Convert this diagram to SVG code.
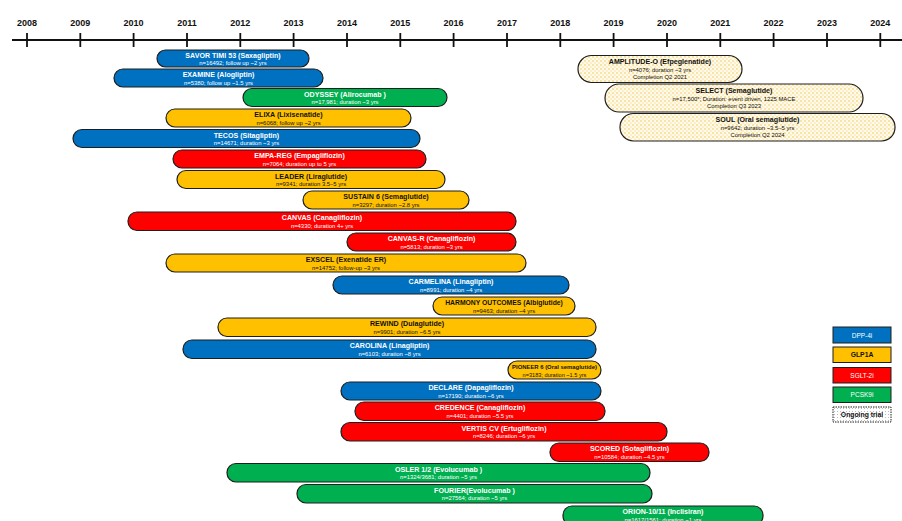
<svg xmlns="http://www.w3.org/2000/svg" width="902" height="521" viewBox="0 0 902 521">
<defs>
<pattern id="dots" width="4" height="4" patternUnits="userSpaceOnUse">
<rect width="4" height="4" fill="#fffaea"/>
<rect x="0" y="0" width="2" height="2" fill="#f8e4a8"/>
<rect x="2" y="2" width="2" height="2" fill="#fbeec8"/>
</pattern>
<pattern id="wdots" width="3" height="3" patternUnits="userSpaceOnUse">
<rect width="3" height="3" fill="#ffffff"/>
<rect x="0" y="0" width="1" height="1" fill="#bbbbbb"/>
</pattern>
<style>
.yr{font-family:"Liberation Sans",Arial,sans-serif;font-size:9px;font-weight:bold;fill:#111;text-anchor:middle}
.bar{stroke:#1e1e1e;stroke-width:1.2}
.b{fill:#0070c0}.y{fill:#ffc000}.r{fill:#ff0000}.g{fill:#00b050}.o{fill:url(#dots)}
.t{font-family:"Liberation Sans",Arial,sans-serif;font-size:7.1px;font-weight:bold;text-anchor:middle}
.s{font-family:"Liberation Sans",Arial,sans-serif;font-size:5.9px;text-anchor:middle}
.w{fill:#ffffff}.k{fill:#111111}
.lg{stroke:#1e1e1e;stroke-width:1}
</style>
</defs>
<rect width="902" height="521" fill="#ffffff"/>
<g id="axis">
<line x1="12" y1="40" x2="902" y2="40" stroke="#111" stroke-width="1.8"/>
<g stroke="#111" stroke-width="1.8">
<line x1="27" y1="33" x2="27" y2="47"/><line x1="80.3" y1="33" x2="80.3" y2="47"/><line x1="133.6" y1="33" x2="133.6" y2="47"/><line x1="187" y1="33" x2="187" y2="47"/><line x1="240.3" y1="33" x2="240.3" y2="47"/><line x1="293.6" y1="33" x2="293.6" y2="47"/><line x1="347" y1="33" x2="347" y2="47"/><line x1="400.3" y1="33" x2="400.3" y2="47"/><line x1="453.6" y1="33" x2="453.6" y2="47"/><line x1="507" y1="33" x2="507" y2="47"/><line x1="560.3" y1="33" x2="560.3" y2="47"/><line x1="613.6" y1="33" x2="613.6" y2="47"/><line x1="667" y1="33" x2="667" y2="47"/><line x1="720.3" y1="33" x2="720.3" y2="47"/><line x1="773.6" y1="33" x2="773.6" y2="47"/><line x1="827" y1="33" x2="827" y2="47"/><line x1="880.3" y1="33" x2="880.3" y2="47"/>
</g>
<text class="yr" x="27" y="26">2008</text><text class="yr" x="80.3" y="26">2009</text><text class="yr" x="133.6" y="26">2010</text><text class="yr" x="187" y="26">2011</text><text class="yr" x="240.3" y="26">2012</text><text class="yr" x="293.6" y="26">2013</text><text class="yr" x="347" y="26">2014</text><text class="yr" x="400.3" y="26">2015</text><text class="yr" x="453.6" y="26">2016</text><text class="yr" x="507" y="26">2017</text><text class="yr" x="560.3" y="26">2018</text><text class="yr" x="613.6" y="26">2019</text><text class="yr" x="667" y="26">2020</text><text class="yr" x="720.3" y="26">2021</text><text class="yr" x="773.6" y="26">2022</text><text class="yr" x="827" y="26">2023</text><text class="yr" x="880.3" y="26">2024</text>
</g>
<g id="connectors"></g>
<g id="savor"><rect class="bar b" x="157" y="50" width="152" height="17" rx="8.5"/><text class="t w" x="233" y="57.8">SAVOR TIMI 53 (Saxagliptin)</text><text class="s w" x="233" y="65">n=16492; follow up ~2 yrs</text></g>
<g id="examine"><rect class="bar b" x="114" y="69" width="209" height="18" rx="9"/><text class="t w" x="218.5" y="77.3">EXAMINE (Alogliptin)</text><text class="s w" x="218.5" y="84.7">n=5380; follow up ~1.5 yrs</text></g>
<g id="odyssey"><rect class="bar g" x="243" y="88.5" width="204" height="18" rx="9"/><text class="t w" x="345" y="96.8">ODYSSEY (Alirocumab )</text><text class="s w" x="345" y="104.2">n=17,981; duration ~3 yrs</text></g>
<g id="elixa"><rect class="bar y" x="166" y="109" width="245" height="18" rx="9"/><text class="t k" x="288.5" y="117.3">ELIXA (Lixisenatide)</text><text class="s k" x="288.5" y="124.7">n=6068; follow up ~2 yrs</text></g>
<g id="tecos"><rect class="bar b" x="73" y="129.5" width="347" height="18" rx="9"/><text class="t w" x="246.5" y="137.8">TECOS (Sitagliptin)</text><text class="s w" x="246.5" y="145.2">n=14671; duration ~3 yrs</text></g>
<g id="empareg"><rect class="bar r" x="173" y="150" width="253" height="18" rx="9"/><text class="t w" x="299.5" y="158.3">EMPA-REG (Empagliflozin)</text><text class="s w" x="299.5" y="165.7">n=7064; duration up to 5 yrs</text></g>
<g id="leader"><rect class="bar y" x="177" y="170.5" width="268" height="18" rx="9"/><text class="t k" x="311" y="178.8">LEADER (Liraglutide)</text><text class="s k" x="311" y="186.2">n=9341; duration 3.5–5 yrs</text></g>
<g id="sustain6"><rect class="bar y" x="303" y="191" width="166" height="18" rx="9"/><text class="t k" x="386" y="199.3">SUSTAIN 6 (Semaglutide)</text><text class="s k" x="386" y="206.7">n=3297; duration ~2.8 yrs</text></g>
<g id="canvas"><rect class="bar r" x="128" y="212" width="388" height="18.5" rx="9"/><text class="t w" x="322" y="220.3">CANVAS (Canagliflozin)</text><text class="s w" x="322" y="227.7">n=4330; duration 4+ yrs</text></g>
<g id="canvasr"><rect class="bar r" x="347" y="233" width="169" height="18" rx="9"/><text class="t w" x="431.5" y="241.3">CANVAS-R (Canagliflozin)</text><text class="s w" x="431.5" y="248.7">n=5813; duration ~3 yrs</text></g>
<g id="exscel"><rect class="bar y" x="166" y="254" width="360" height="18" rx="9"/><text class="t k" x="346" y="262.3">EXSCEL (Exenatide ER)</text><text class="s k" x="346" y="269.7">n=14752; follow-up ~3 yrs</text></g>
<g id="carmelina"><rect class="bar b" x="333" y="276" width="236" height="18" rx="9"/><text class="t w" x="451" y="284.3">CARMELINA (Linagliptin)</text><text class="s w" x="451" y="291.7">n=8991; duration ~4 yrs</text></g>
<g id="harmony"><rect class="bar y" x="433" y="297" width="142" height="18" rx="9"/><text class="t k" x="504" y="305.3" style="font-size:6.8px">HARMONY OUTCOMES (Albiglutide)</text><text class="s k" x="504" y="312.7">n=9463; duration ~4 yrs</text></g>
<g id="rewind"><rect class="bar y" x="218" y="318" width="378" height="18.5" rx="9"/><text class="t k" x="407" y="326.3">REWIND (Dulaglutide)</text><text class="s k" x="407" y="333.7">n=9901; duration ~6.5 yrs</text></g>
<g id="carolina"><rect class="bar b" x="183" y="340" width="413" height="18.5" rx="9"/><text class="t w" x="389.5" y="348.3">CAROLINA (Linagliptin)</text><text class="s w" x="389.5" y="355.7">n=6103; duration ~8 yrs</text></g>
<g id="pioneer6"><rect class="bar y" x="508" y="361" width="93" height="18" rx="9"/><text class="t k" x="554.5" y="369" style="font-size:5.9px">PIONEER 6 (Oral semaglutide)</text><text class="s k" x="554.5" y="376.5" style="font-size:5.6px">n=3183; duration ~1.5 yrs</text></g>
<g id="declare"><rect class="bar b" x="341" y="382" width="260" height="18" rx="9"/><text class="t w" x="471" y="390.3">DECLARE (Dapagliflozin)</text><text class="s w" x="471" y="397.7">n=17190; duration ~6 yrs</text></g>
<g id="credence"><rect class="bar r" x="355" y="402" width="250" height="18.5" rx="9"/><text class="t w" x="480" y="410.3">CREDENCE (Canagliflozin)</text><text class="s w" x="480" y="417.7">n=4401; duration ~5.5 yrs</text></g>
<g id="vertis"><rect class="bar r" x="341" y="422.5" width="326" height="18.5" rx="9"/><text class="t w" x="504" y="430.8">VERTIS CV (Ertugliflozin)</text><text class="s w" x="504" y="438.2">n=8246; duration ~6 yrs</text></g>
<g id="scored"><rect class="bar r" x="550" y="443" width="159" height="18.5" rx="9"/><text class="t w" x="629.5" y="451.3">SCORED (Sotagliflozin)</text><text class="s w" x="629.5" y="458.7">n=10584; duration ~4.5 yrs</text></g>
<g id="osler"><rect class="bar g" x="227" y="463.5" width="423" height="18.5" rx="9"/><text class="t w" x="438.5" y="471.8">OSLER 1/2 (Evolucumab )</text><text class="s w" x="438.5" y="479.2">n=1324/3681; duration ~5 yrs</text></g>
<g id="fourier"><rect class="bar g" x="297" y="484.5" width="355" height="18.5" rx="9"/><text class="t w" x="474.5" y="492.8">FOURIER(Evolucumab )</text><text class="s w" x="474.5" y="500.2">n=27564; duration ~5 yrs</text></g>
<g id="orion"><rect class="bar g" x="563" y="506" width="200" height="19" rx="9"/><text class="t w" x="663" y="514.3">ORION-10/11 (Inclisiran)</text><text class="s w" x="663" y="521.7">n=1617/1561; duration ~1 yrs</text></g>
<g id="amplitude"><rect class="bar o" x="578" y="55.5" width="164" height="27" rx="13.5"/><text class="t k" x="660" y="63.8">AMPLITUDE-O (Efpeglenatide)</text><text class="s k" x="660" y="71.5">n=4076; duration ~3 yrs</text><text class="s k" x="660" y="79">Completion Q2 2021</text></g>
<g id="select"><rect class="bar o" x="605" y="84" width="258" height="28" rx="14"/><text class="t k" x="734" y="92.8">SELECT (Semaglutide)</text><text class="s k" x="734" y="100.5">n=17,500*; Duration: event driven, 1225 MACE</text><text class="s k" x="734" y="108">Completion Q3 2023</text></g>
<g id="soul"><rect class="bar o" x="620" y="113.5" width="275" height="27.5" rx="13.5"/><text class="t k" x="757.5" y="121.8">SOUL (Oral semaglutide)</text><text class="s k" x="757.5" y="129.5">n=9642; duration ~3.5–5 yrs</text><text class="s k" x="757.5" y="137">Completion Q2 2024</text></g>
<g id="legend">
<g id="lg-dpp4i"><rect class="lg b" x="833" y="327" width="58" height="16"/><text class="s w" x="862" y="337.5" style="font-size:6.5px">DPP-4i</text></g>
<g id="lg-glp1a"><rect class="lg y" x="833" y="347" width="58" height="15.5"/><text class="t k" x="862" y="357.2" style="font-size:6.8px">GLP1A</text></g>
<g id="lg-sglt2i"><rect class="lg r" x="833" y="367.5" width="58" height="15.5"/><text class="s w" x="862" y="377.5" style="font-size:6.5px">SGLT-2i</text></g>
<g id="lg-pcsk9i"><rect class="lg g" x="833" y="387" width="58" height="15.5"/><text class="s w" x="862" y="397" style="font-size:6.5px">PCSK9i</text></g>
<g id="lg-ongoing"><rect class="lg" x="833" y="407" width="58" height="15" fill="url(#wdots)" stroke-dasharray="1.5,1"/><text class="t k" x="862" y="417" style="font-size:6.8px">Ongoing trial</text></g>
</g>
</svg>
